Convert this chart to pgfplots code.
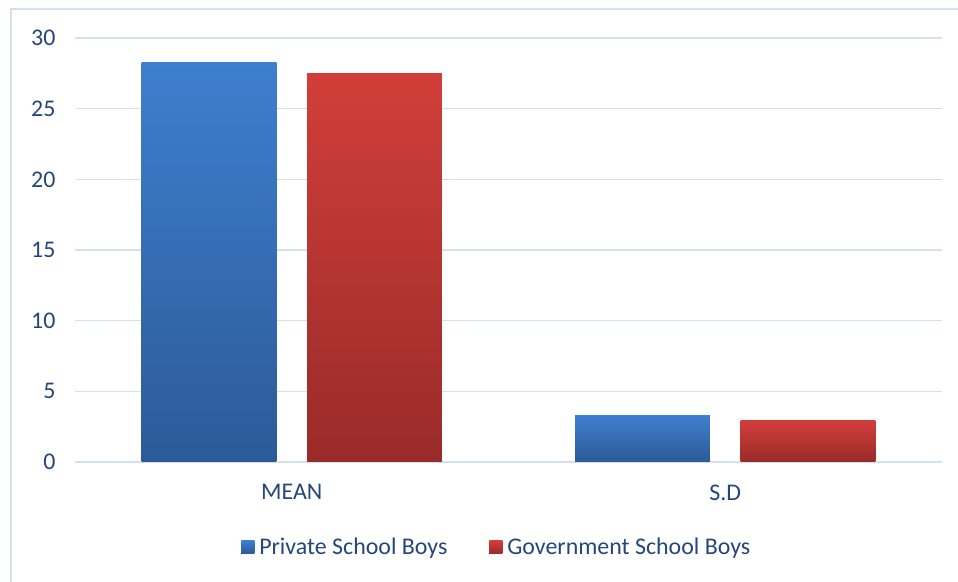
\documentclass[border=0pt]{standalone}
\usepackage{fontspec}
\setmainfont{Carlito}
\usepackage{pgfplots}
\pgfplotsset{compat=1.18}
\definecolor{txt}{HTML}{24467A}
\definecolor{gridc}{HTML}{D3E0F1}
\definecolor{btop}{HTML}{3E7FCE}
\definecolor{bbot}{HTML}{2C5A98}
\definecolor{rtop}{HTML}{D13E3A}
\definecolor{rbot}{HTML}{992B29}
\begin{document}
\begin{tikzpicture}[x=1bp,y=1bp]
\begin{axis}[
  at={(0,0)}, anchor=south west,
  scale only axis, width=867bp, height=424bp,
  xmin=-0.5, xmax=1.5, ymin=0, ymax=30,
  xtick={0,1}, xticklabels={MEAN,S.D},
  ytick={0,5,...,30},
  axis line style={draw=none},
  major tick length=0pt,
  ymajorgrids,
  grid style={gridc, line width=1.5bp},
  /pgf/number format/assume math mode=true,
  tick label style={font=\fontsize{24}{28}\selectfont, text=txt},
  yticklabel style={xshift=-16bp},
  xticklabel style={yshift=-19bp},
  ybar, bar width=0.311,
  legend style={at={(0.4865,-0.2)}, anchor=center, legend columns=2, draw=none, fill=none,
    font=\fontsize{24}{28}\selectfont, text=txt,
    /tikz/every even column/.append style={column sep=40bp}},
  legend image code/.code={\fill[#1] (0bp,-7bp) rectangle (13bp,6bp); \path (16bp,0bp);},
]
\addplot[ybar, bar shift=-0.191, draw=none, top color=btop, bottom color=bbot] coordinates {(0,28.3)};
\addplot[ybar, bar shift=0.191, draw=none, top color=rtop, bottom color=rbot] coordinates {(0,27.5)};
\addplot[ybar, bar shift=-0.191, draw=none, top color=btop, bottom color=bbot, forget plot] coordinates {(1,3.3)};
\addplot[ybar, bar shift=0.191, draw=none, top color=rtop, bottom color=rbot, forget plot] coordinates {(1,2.95)};
\legend{Private School Boys, Government School Boys}
\end{axis}
\draw[gridc, line width=1.5bp] (-64,-130) -- (-64,453) -- (890,453);
\pgfresetboundingbox
\path[use as bounding box] (-75,-120) rectangle (883,462);
\end{tikzpicture}
\end{document}
